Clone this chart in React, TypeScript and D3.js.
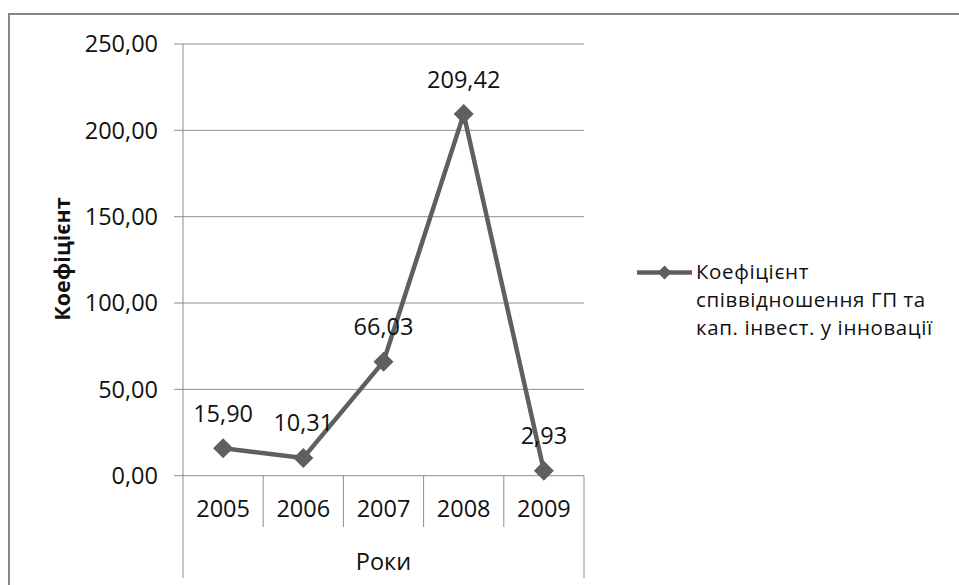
import React from "react";
import * as d3 from "d3";

const years = ["2005", "2006", "2007", "2008", "2009"];
const values = [15.9, 10.31, 66.03, 209.42, 2.93];
const labels = ["15,90", "10,31", "66,03", "209,42", "2,93"];
const yTicks = [0, 50, 100, 150, 200, 250];
const seriesName = ["Коефіцієнт", "співвідношення ГП та", "кап. інвест. у інновації"];
const yTitle = "Коефіцієнт";
const xTitle = "Роки";

const W = 959, H = 585;
const FONT = "'Open Sans', 'Noto Sans', sans-serif";
const LINE = "#5f5f5f";
const GRID = "#8e8e8e";

export default function App() {
  const left = 183, right = 584, top = 44, bottom = 475.7;
  const x = d3.scaleBand().domain(years).range([left, right]);
  const y = d3.scaleLinear().domain([0, 250]).range([bottom, top]);
  const cx = (d: string) => (x(d) as number) + x.bandwidth() / 2;
  const line = d3.line<number>().x((_, i) => cx(years[i])).y((v) => y(v));
  const diamond = (px: number, py: number, r: number) =>
    `M${px},${py - r}L${px + r},${py}L${px},${py + r}L${px - r},${py}Z`;
  const fmt = (v: number) => d3.format(".2f")(v).replace(".", ",");

  return (
    <svg width={W} height={H} style={{ position: "absolute", left: 0, top: 0, background: "#fff" }}>
      <rect x={9} y={14} width={1000} height={1000} fill="#fff" stroke="#878787" strokeWidth={2} />
      {yTicks.map((t) => (
        <g key={t}>
          <line x1={174} x2={right} y1={y(t)} y2={y(t)} stroke={GRID} strokeWidth={1} />
          <text x={158} y={y(t)} dy="0.36em" textAnchor="end" fontFamily={FONT} fontSize={23.5} fill="#111">
            {fmt(t)}
          </text>
        </g>
      ))}
      <line x1={left} x2={left} y1={top} y2={578} stroke={GRID} strokeWidth={1} />
      <line x1={right} x2={right} y1={bottom} y2={578} stroke={GRID} strokeWidth={1} />
      {years.slice(1).map((yr) => (
        <line key={yr} x1={x(yr) as number} x2={x(yr) as number} y1={bottom} y2={527} stroke={GRID} strokeWidth={1} />
      ))}
      {years.map((yr) => (
        <text key={yr} x={cx(yr)} y={509} dy="0.36em" textAnchor="middle" fontFamily={FONT} fontSize={23.5} fill="#111">
          {yr}
        </text>
      ))}
      <text x={(left + right) / 2} y={562} dy="0.36em" textAnchor="middle" fontFamily={FONT} fontSize={23.5} fill="#111">
        {xTitle}
      </text>
      <text
        transform={`translate(62, 259) rotate(-90)`}
        textAnchor="middle"
        dy="0.36em"
        fontFamily={FONT}
        fontSize={21.5}
        fontWeight="bold"
        fill="#111"
      >
        {yTitle}
      </text>
      <path d={line(values) || ""} fill="none" stroke={LINE} strokeWidth={4.5} strokeLinejoin="round" />
      {values.map((v, i) => (
        <path key={i} d={diamond(cx(years[i]), y(v), 10)} fill={LINE} />
      ))}
      {values.map((v, i) => (
        <text key={i} x={cx(years[i])} y={y(v) - 35} dy="0.36em" textAnchor="middle" fontFamily={FONT} fontSize={23.5} fill="#111">
          {labels[i]}
        </text>
      ))}
      <line x1={637} x2={692} y1={272.5} y2={272.5} stroke={LINE} strokeWidth={4.5} />
      <path d={diamond(664.5, 272.5, 7)} fill={LINE} />
      {seriesName.map((s, i) => (
        <text key={i} x={696} y={272 + i * 28} dy="0.36em" fontFamily={FONT} fontSize={20.5} letterSpacing={0.6} fill="#111">
          {s}
        </text>
      ))}
    </svg>
  );
}
